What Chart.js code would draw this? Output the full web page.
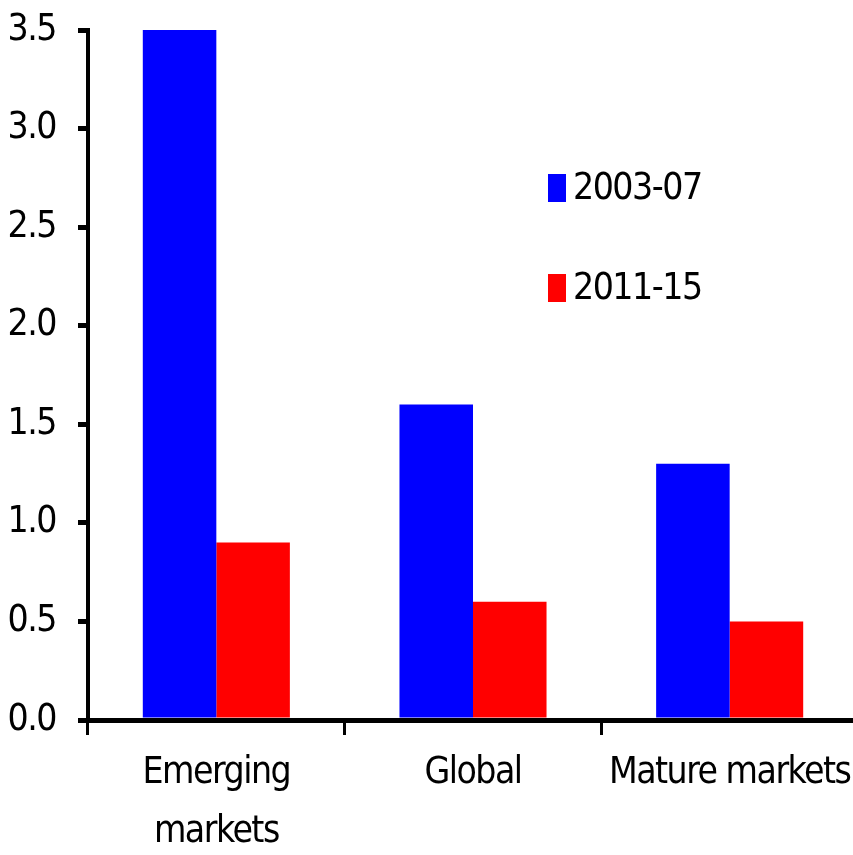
<!DOCTYPE html>
<html>
<head>
<meta charset="utf-8">
<script src="https://cdn.jsdelivr.net/npm/chart.js@4/dist/chart.umd.min.js"></script>
<style>
  html, body { margin: 0; padding: 0; background: #fff; overflow: hidden; }
</style>
</head>
<body>
<canvas id="c" width="858" height="855" style="width:858px;height:855px;display:block"></canvas>
<script>
const categories = [["Emerging", "markets"], "Global", "Mature markets"];
const seriesNames = ["2003-07", "2011-15"];
const values2003_07 = [3.5, 1.6, 1.3];
const values2011_15 = [0.9, 0.6, 0.5];
const seriesColors = ["#0000FF", "#FF0000"];
const yTicks = [0.0, 0.5, 1.0, 1.5, 2.0, 2.5, 3.0, 3.5];

const FONT = "'Liberation Sans Narrow', 'DejaVu Sans Condensed', sans-serif";
const FS = 37;
const LS = '-1.5px';

const spacingPlugin = {
  id: 'spacing',
  beforeLayout(chart) { chart.ctx.letterSpacing = LS; },
  beforeDraw(chart) { chart.ctx.letterSpacing = LS; }
};

const legendPlugin = {
  id: 'sideLegend',
  afterDraw(chart) {
    const ctx = chart.ctx;
    const a = chart.chartArea;
    ctx.save();
    ctx.letterSpacing = LS;
    chart.data.datasets.forEach((ds, i) => {
      const bx = a.left + 460;
      const by = a.top + 144 + i * 100;
      ctx.fillStyle = ds.backgroundColor;
      ctx.fillRect(bx, by, 18, 28);
      ctx.fillStyle = '#000';
      ctx.font = FS + 'px ' + FONT;
      ctx.textAlign = 'left';
      ctx.textBaseline = 'middle';
      ctx.fillText(ds.label, bx + 25, by + 15);
    });
    ctx.restore();
  }
};

new Chart(document.getElementById('c'), {
  type: 'bar',
  data: {
    labels: categories,
    datasets: [
      { label: seriesNames[0], data: values2003_07, backgroundColor: seriesColors[0] },
      { label: seriesNames[1], data: values2011_15, backgroundColor: seriesColors[1] }
    ]
  },
  options: {
    responsive: false,
    animation: false,
    devicePixelRatio: 1,
    layout: { padding: { top: 30, right: 0, left: 0, bottom: 0 } },
    datasets: { bar: { categoryPercentage: 0.573, barPercentage: 1.0, borderWidth: 0 } },
    plugins: { legend: { display: false }, tooltip: { enabled: false } },
    scales: {
      x: {
        grid: { offset: true, drawOnChartArea: false, drawTicks: true, tickLength: 15, lineWidth: 3, color: '#000' },
        border: { display: true, width: 5, color: '#000' },
        ticks: { color: '#000', font: { family: FONT, size: FS, lineHeight: 1.6 }, padding: 9, maxRotation: 0, autoSkip: false },
        afterFit(scale) { scale.height = 135; scale.paddingLeft = 0; scale.paddingRight = 0; }
      },
      y: {
        min: 0, max: 3.5,
        afterBuildTicks(scale) { scale.ticks = yTicks.map(v => ({ value: v })); },
        grid: { drawOnChartArea: false, drawTicks: true, tickLength: 10, lineWidth: 5, color: '#000' },
        border: { display: true, width: 4, color: '#000' },
        ticks: { color: '#000', font: { family: FONT, size: FS }, padding: 22, callback: v => Number(v).toFixed(1) },
        afterFit(scale) { scale.width = 88; scale.paddingTop = 0; scale.paddingBottom = 0; }
      }
    }
  },
  plugins: [spacingPlugin, legendPlugin]
});
</script>
</body>
</html>
